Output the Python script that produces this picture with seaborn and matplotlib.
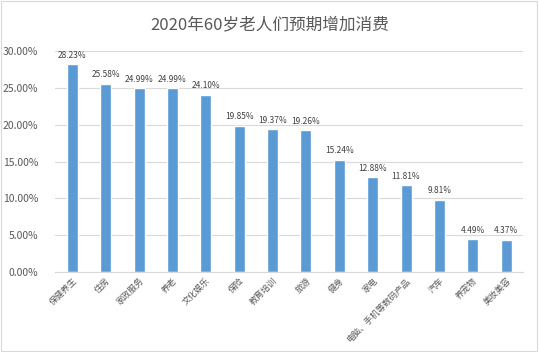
import pandas as pd
import matplotlib
matplotlib.use('Agg')
import matplotlib.pyplot as plt
import seaborn as sns
from matplotlib.ticker import PercentFormatter

# data
categories = ['保健养生', '住房', '家政服务', '养老', '文化娱乐', '保险', '教育培训',
              '旅游', '健身', '家电', '电脑、手机等数码产品', '汽车', '养宠物', '美妆美容']
values = [28.23, 25.58, 24.99, 24.99, 24.10, 19.85, 19.37,
          19.26, 15.24, 12.88, 11.81, 9.81, 4.49, 4.37]

df = pd.DataFrame({'category': categories, 'value': values})

sns.set_style('white')
plt.rcParams['font.family'] = ['Noto Sans CJK SC', 'DejaVu Sans']

fig = plt.figure(figsize=(5.39, 3.52), dpi=100)
ax = fig.add_axes([0.102, 0.227, 0.868, 0.628])

sns.barplot(data=df, x='category', y='value', color='#5B9BD5', width=0.33,
            saturation=1, ax=ax)

ax.set_ylim(0, 30)
ax.set_yticks(range(0, 31, 5))
ax.yaxis.set_major_formatter(PercentFormatter(decimals=2))
ax.grid(axis='y', color='#D9D9D9', linewidth=0.8)
ax.set_axisbelow(True)
for s in ['top', 'right', 'left']:
    ax.spines[s].set_visible(False)
ax.spines['bottom'].set_color('#D9D9D9')
ax.tick_params(axis='y', labelsize=7.5, colors='#595959', length=0, pad=12)
ax.tick_params(axis='x', labelsize=6.2, colors='#595959', length=0, pad=3)
plt.setp(ax.get_xticklabels(), rotation=45, ha='right', rotation_mode='anchor')
ax.set_xlabel('')
ax.set_ylabel('')
ax.set_xlim(-0.52, len(categories) - 0.5)

for i, v in enumerate(values):
    ax.text(i, v + 0.6, f'{v:.2f}%', ha='center', va='bottom', fontsize=6, color='#404040')

fig.suptitle('2020年60岁老人们预期增加消费', y=0.955, fontsize=12, color='#595959')

# light border around the chart area
fig.patches.append(plt.Rectangle((0.002, 0.003), 0.995, 0.994, transform=fig.transFigure,
                                 fill=False, edgecolor='#D9D9D9', linewidth=0.8))

fig.savefig('out.png', dpi=100)
